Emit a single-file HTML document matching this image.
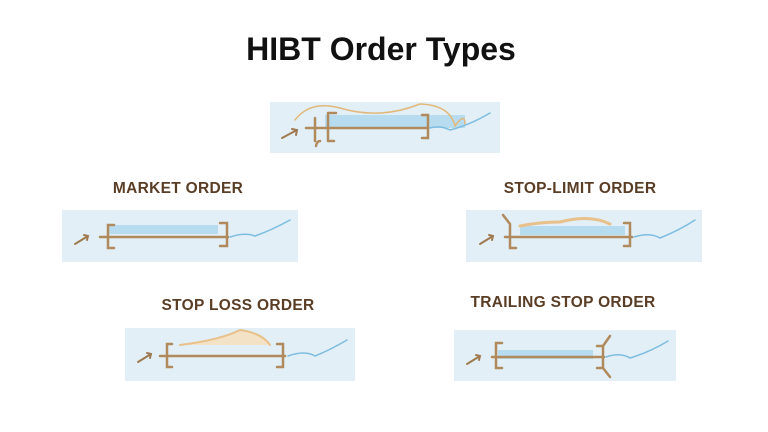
<!DOCTYPE html>
<html><head><style>
body{margin:0;width:768px;height:432px;background:#fff;overflow:hidden;font-family:"Liberation Sans",sans-serif;position:relative}
.t{position:absolute;font-weight:bold;white-space:nowrap;transform:translateX(-50%)}
h1{position:absolute;margin:0;left:381px;top:31px;transform:translateX(-50%);font-size:32px;font-weight:bold;color:#111;white-space:nowrap}
.l{font-size:15.5px;color:#5a3d25;letter-spacing:0.3px}
svg{position:absolute;left:0;top:0}
</style></head><body>
<h1>HIBT Order Types</h1>
<div class="t l" style="left:178px;top:180px">MARKET ORDER</div>
<div class="t l" style="left:580px;top:180px">STOP-LIMIT ORDER</div>
<div class="t l" style="left:238px;top:297px">STOP LOSS ORDER</div>
<div class="t l" style="left:563px;top:294px">TRAILING STOP ORDER</div>
<svg width="768" height="432" fill="none" stroke-linecap="round">
<g fill="#e2eff7" stroke="none">
<rect x="270" y="102" width="230" height="51"/>
<rect x="62" y="210" width="236" height="52"/>
<rect x="466" y="210" width="236" height="52"/>
<rect x="125" y="328" width="230" height="53"/>
<rect x="454" y="330" width="222" height="51"/>
</g>
<rect x="325" y="115" width="140" height="13" fill="#b8dcef"/>
<path d="M295 120 Q310 100 340 108 Q380 120 420 104 Q450 105 455 126 Q465 112 465 124" stroke="#e2b87a" stroke-width="1.5"/>
<path d="M282 138 L297 130 M292 129 L297 130 L296 135" stroke="#a07a50" stroke-width="2"/>
<path d="M306 128 H428" stroke="#b08a5c" stroke-width="2.5"/>
<path d="M315 118 V141 M328 113 V141 M328 113 H336 M328 141 H334 M320 141 Q317 141 316 146 M422 115 H428 V138 H422" stroke="#b08a5c" stroke-width="2.5"/>
<path d="M430 128 Q440 125 450 130 Q470 125 490 113" stroke="#7dbde0" stroke-width="1.5"/>
<rect x="108" y="225" width="110" height="9" fill="#b8dcef"/>
<path d="M75 244 L88 236 M84 235 L88 236 L87 240" stroke="#a07a50" stroke-width="2"/>
<path d="M100 237 H228 M114 225 H108 V248 H114 M220 223 H227 V246 H220" stroke="#b08a5c" stroke-width="2.5"/>
<path d="M230 237 Q245 232 255 236 Q272 230 290 220" stroke="#7dbde0" stroke-width="1.5"/>
<rect x="520" y="226" width="105" height="9" fill="#b8dcef"/>
<path d="M520 226 Q540 222 560 222 Q590 214 610 224" stroke="#e8c08a" stroke-width="3"/>
<path d="M480 244 L493 236 M489 235 L493 236 L492 240" stroke="#a07a50" stroke-width="2"/>
<path d="M505 237 H632 M503 215 L510 224 V248 H516 M624 223 H630 V246 H624" stroke="#b08a5c" stroke-width="2.5"/>
<path d="M634 237 Q650 232 660 238 Q680 230 695 220" stroke="#7dbde0" stroke-width="1.5"/>
<path d="M180 345 Q220 340 240 330 Q262 333 270 345" stroke="#e8c08a" stroke-width="2" fill="#f3e2c6"/>
<path d="M138 362 L151 354 M147 353 L151 354 L150 358" stroke="#a07a50" stroke-width="2"/>
<path d="M160 356 H285 M172 344 H167 V367 H172 M277 344 H283 V367 H277" stroke="#b08a5c" stroke-width="2.5"/>
<path d="M288 356 Q305 350 315 356 Q330 350 347 340" stroke="#7dbde0" stroke-width="1.5"/>
<rect x="498" y="350" width="95" height="9" fill="#b8dcef"/>
<path d="M467 364 L480 356 M476 355 L480 356 L479 360" stroke="#a07a50" stroke-width="2"/>
<path d="M492 357 H604 M502 343 H496 V368 H502 M597 346 H603 V368 H597 M603 346 L610 336 M603 368 L610 377" stroke="#b08a5c" stroke-width="2.5"/>
<path d="M606 357 Q620 352 630 358 Q650 352 668 341" stroke="#7dbde0" stroke-width="1.5"/>
</svg>
</body></html>
